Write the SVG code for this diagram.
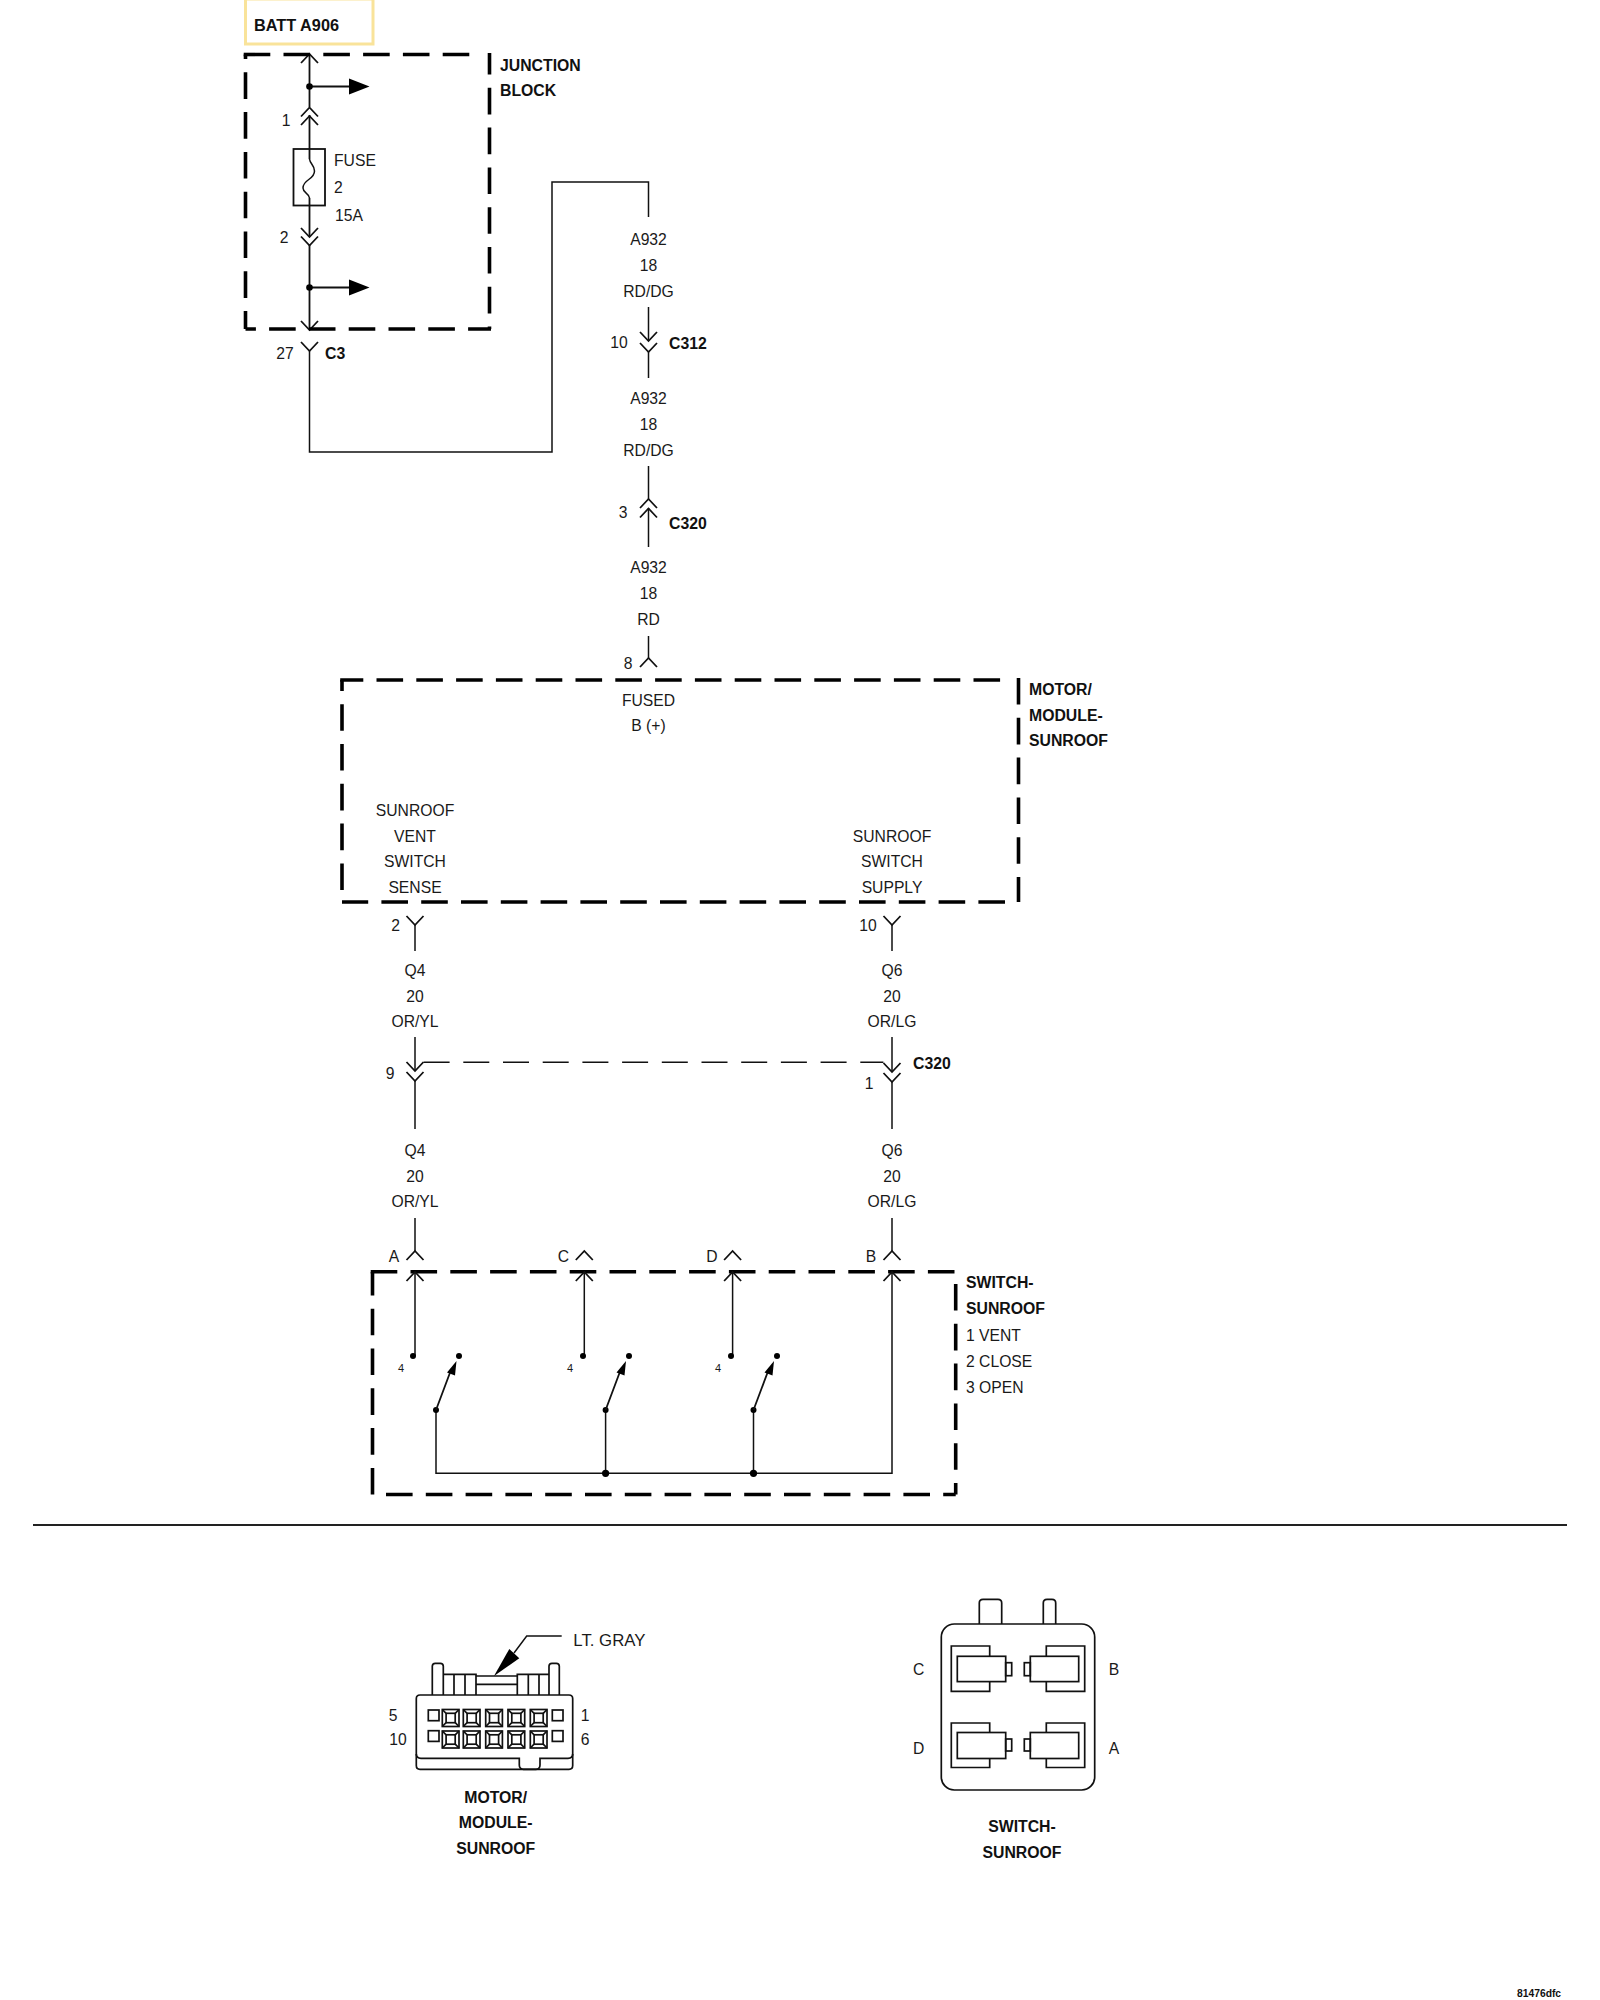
<svg xmlns="http://www.w3.org/2000/svg" width="1600" height="2000" viewBox="0 0 1600 2000">
<style>
text{font-family:"Liberation Sans",Arial,sans-serif;font-size:15.7px;fill:#1a1a1a}
.b{font-weight:bold;fill:#111;font-size:15.8px}
.m{text-anchor:middle}
.s{font-size:11px}
.w{fill:none;stroke:#111;stroke-width:1.5}
.t{fill:none;stroke:#111;stroke-width:1.8}
.d{fill:none;stroke:#000;stroke-width:3.6;stroke-dasharray:26.6 13.2}
.f{fill:#000;stroke:none}
.k{fill:none;stroke:#111;stroke-width:1.7}
</style>
<defs>
<path id="dn" d="M-8.5,-9L0,0L8.5,-9" fill="none" stroke="#111" stroke-width="1.8"/>
<path id="up" d="M-8.5,9L0,0L8.5,9" fill="none" stroke="#111" stroke-width="1.8"/>
<g id="bigpin"><rect x="0" y="0" width="16.7" height="17" class="k"/><rect x="3.8" y="3.8" width="9.1" height="9.4" class="k" stroke-width="1.2"/><path d="M0,0L3.8,3.8M16.7,0L12.9,3.8M0,17L3.8,13.2M16.7,17L12.9,13.2" class="k"/></g>
<g id="termL"><path d="M89.7,76V66H51.3V111.3H89.7V101.7" class="k"/><rect x="57.3" y="76.3" width="48.4" height="25.3" class="k"/><rect x="105.7" y="82.7" width="6" height="13" class="k"/></g>
<g id="termR"><path d="M146.3,76V66H184.7V111.3H146.3V101.7" class="k"/><rect x="130.3" y="76.3" width="48.4" height="25.3" class="k"/><rect x="124.3" y="82.7" width="6" height="13" class="k"/></g>
</defs>

<g id="batt-a906">
<rect x="245.5" y="-1" width="127.5" height="45" fill="#fff" stroke="#f9e39a" stroke-width="3"/>
<text x="254" y="31" class="b" style="font-size:16.3px">BATT A906</text>
</g>

<g id="connectors">
<path class="t" d="M309.5,54V107M309.5,115V159M309.5,198V237M309.5,245V330"/>
<path class="t" d="M309.5,86.5H350"/>
<path class="t" d="M309.5,287.5H350"/>
<path class="w" d="M309.5,351V452H552V182H648.5V217"/>
<path class="w" d="M648.5,307V341M648.5,351V378"/>
<path class="w" d="M648.5,466V499M648.5,508V547"/>
<path class="w" d="M648.5,636V658"/>
<path class="w" d="M415,925V951M892,925V951"/>
<path class="w" d="M415,1037V1071M415,1081V1129M892,1037V1071M892,1082V1129"/>
<path class="w" d="M415,1218V1251M892,1218V1251"/>
<path class="w" d="M423.6,1062.3H883.4" stroke-dasharray="26 13.7"/>
<use href="#up" x="309.5" y="54"/>
<use href="#up" x="309.5" y="107.5"/>
<use href="#up" x="309.5" y="116"/>
<use href="#dn" x="309.5" y="237"/>
<use href="#dn" x="309.5" y="245.5"/>
<use href="#dn" x="309.5" y="330"/>
<use href="#dn" x="309.5" y="351"/>
<use href="#dn" x="648.5" y="341"/>
<use href="#dn" x="648.5" y="352"/>
<use href="#up" x="648.5" y="499"/>
<use href="#up" x="648.5" y="508.5"/>
<use href="#up" x="648.5" y="658"/>
<use href="#dn" x="415" y="925"/>
<use href="#dn" x="892" y="925"/>
<use href="#dn" x="415" y="1071"/>
<use href="#dn" x="415" y="1081"/>
<use href="#dn" x="892" y="1072"/>
<use href="#dn" x="892" y="1082"/>
<use href="#up" x="415" y="1251"/>
<use href="#up" x="584.3" y="1251"/>
<use href="#up" x="732.6" y="1251"/>
<use href="#up" x="892" y="1251"/>
<circle class="f" cx="309.5" cy="86.5" r="3.3"/>
<circle class="f" cx="309.5" cy="287.5" r="3.3"/>
<polygon class="f" points="349,78.5 369.5,86.5 349,94.5"/>
<polygon class="f" points="349,279.5 369.5,287.5 349,295.5"/>
</g>

<g id="junction-block">
<path class="d" d="M243.7,54.5H471"/>
<path class="d" d="M489.5,53V329" stroke-dashoffset="5"/>
<path class="d" d="M491,329H245.5" stroke-dashoffset="3.7"/>
<path class="d" d="M245.5,329V54.5" stroke-dashoffset="8.7"/>
<text x="500" y="71" class="b">JUNCTION</text>
<text x="500" y="96" class="b">BLOCK</text>
<g id="fuse">
<rect x="293.5" y="149" width="31.5" height="56.5" class="t"/>
<path d="M309.5,159C310,164 314.5,165 314.5,171C314.5,180 303,179 303,188C303,193 309,193 309.5,198" fill="none" stroke="#111" stroke-width="1.5"/>
<text x="334" y="166">FUSE</text>
<text x="334" y="193">2</text>
<text x="335" y="221">15A</text>
</g>
<text x="286" y="126" class="m">1</text>
<text x="284" y="243" class="m">2</text>
</g>

<g id="wire-labels">
<text x="285" y="359" class="m">27</text>
<text x="325" y="359" class="b">C3</text>
<text x="648.5" y="244.5" class="m">A932</text>
<text x="648.5" y="271" class="m">18</text>
<text x="648.5" y="297" class="m">RD/DG</text>
<text x="619" y="348" class="m">10</text>
<text x="669" y="349" class="b">C312</text>
<text x="648.5" y="404" class="m">A932</text>
<text x="648.5" y="430" class="m">18</text>
<text x="648.5" y="456" class="m">RD/DG</text>
<text x="623" y="518" class="m">3</text>
<text x="669" y="529" class="b">C320</text>
<text x="648.5" y="573" class="m">A932</text>
<text x="648.5" y="599" class="m">18</text>
<text x="648.5" y="625" class="m">RD</text>
<text x="628" y="669" class="m">8</text>
<text x="395.5" y="931" class="m">2</text>
<text x="868" y="931" class="m">10</text>
<text x="415" y="976" class="m">Q4</text>
<text x="415" y="1001.5" class="m">20</text>
<text x="415" y="1027" class="m">OR/YL</text>
<text x="892" y="976" class="m">Q6</text>
<text x="892" y="1001.5" class="m">20</text>
<text x="892" y="1027" class="m">OR/LG</text>
<text x="390" y="1079" class="m">9</text>
<text x="869" y="1089" class="m">1</text>
<text x="913" y="1069" class="b">C320</text>
<text x="415" y="1156" class="m">Q4</text>
<text x="415" y="1181.5" class="m">20</text>
<text x="415" y="1207" class="m">OR/YL</text>
<text x="892" y="1156" class="m">Q6</text>
<text x="892" y="1181.5" class="m">20</text>
<text x="892" y="1207" class="m">OR/LG</text>
</g>

<g id="motor-module-sunroof">
<path class="d" d="M340.2,680H1003" stroke-dashoffset="3.5"/>
<path class="d" d="M1018.5,678V902"/>
<path class="d" d="M1005,902H342"/>
<path class="d" d="M342,890V680"/>
<text x="1029" y="695" class="b">MOTOR/</text>
<text x="1029" y="721" class="b">MODULE-</text>
<text x="1029" y="746" class="b">SUNROOF</text>
<text x="648.5" y="706" class="m">FUSED</text>
<text x="648.5" y="731" class="m">B (+)</text>
<text x="415" y="816" class="m">SUNROOF</text>
<text x="415" y="841.5" class="m">VENT</text>
<text x="415" y="867" class="m">SWITCH</text>
<text x="415" y="893" class="m">SENSE</text>
<text x="892" y="841.5" class="m">SUNROOF</text>
<text x="892" y="867" class="m">SWITCH</text>
<text x="892" y="893" class="m">SUPPLY</text>
</g>

<g id="switch-sunroof">
<path class="d" d="M370.7,1271.7H955.7"/>
<path class="d" d="M955.7,1284V1494.5"/>
<path class="d" d="M386,1494.5H955.7"/>
<path class="d" d="M372.5,1494.5V1272"/>
<text x="394" y="1262" class="m">A</text>
<text x="563.5" y="1262" class="m">C</text>
<text x="712" y="1262" class="m">D</text>
<text x="871" y="1262" class="m">B</text>
<path class="w" d="M415,1272V1356M584.3,1272V1356M732.6,1272V1356M892,1272V1473.3H436V1410M605.6,1473.3V1410M753.5,1473.3V1410"/>
<use href="#up" x="415" y="1272"/>
<use href="#up" x="584.3" y="1272"/>
<use href="#up" x="732.6" y="1272"/>
<use href="#up" x="892" y="1272"/>
<circle class="f" cx="413" cy="1356" r="3"/>
<circle class="f" cx="583" cy="1356" r="3"/>
<circle class="f" cx="731" cy="1356" r="3"/>
<circle class="f" cx="459" cy="1356" r="3"/>
<circle class="f" cx="629" cy="1356" r="3"/>
<circle class="f" cx="777" cy="1356" r="3"/>
<circle class="f" cx="436" cy="1410" r="3"/>
<circle class="f" cx="605.6" cy="1410" r="3"/>
<circle class="f" cx="753.5" cy="1410" r="3"/>
<circle class="f" cx="605.6" cy="1473.3" r="3.6"/>
<circle class="f" cx="753.5" cy="1473.3" r="3.6"/>
<path class="t" d="M436,1410L451,1370M605.6,1410L620.6,1370M753.5,1410L768.5,1370"/>
<polygon class="f" points="456.5,1361 455,1375.5 447,1372.5"/>
<polygon class="f" points="626,1361 624.5,1375.5 616.5,1372.5"/>
<polygon class="f" points="774,1361 772.5,1375.5 764.5,1372.5"/>
<text x="401" y="1372" class="m s">4</text>
<text x="570" y="1372" class="m s">4</text>
<text x="718" y="1372" class="m s">4</text>
<text x="966" y="1288" class="b">SWITCH-</text>
<text x="966" y="1314" class="b">SUNROOF</text>
<text x="966" y="1341">1 VENT</text>
<text x="966" y="1367">2 CLOSE</text>
<text x="966" y="1393">3 OPEN</text>
</g>

<path id="separator" d="M33,1525H1567" stroke="#222" stroke-width="2" fill="none"/>

<g id="connector-motor-module">
<path class="k" d="M432.3,1695V1666.3Q432.3,1663.3 435.3,1663.3H440.3Q443.3,1663.3 443.3,1666.3V1695"/>
<path class="k" d="M549,1695V1666.3Q549,1663.3 552,1663.3H556.3Q559.3,1663.3 559.3,1666.3V1695"/>
<path class="k" d="M443.3,1674.3H476V1695M454,1674.3V1695M465,1674.3V1695M476,1676H517.3M476,1684.3H517.3M517.3,1695V1674.3H549M528.3,1674.3V1695M539,1674.3V1695"/>
<path class="k" d="M420,1695H569Q572.7,1695 572.7,1698.7V1765.5Q572.7,1769.3 569,1769.3H420Q416.3,1769.3 416.3,1765.5V1698.7Q416.3,1695 420,1695Z"/>
<path class="k" d="M416.3,1754Q416.3,1758.3 421,1758.3H519.3V1765Q519.3,1769.3 523.5,1769.3H536Q540,1769.3 540,1765V1758.3H568Q572.7,1758.3 572.7,1754"/>
<rect x="428.3" y="1710" width="10.7" height="10.7" class="k"/>
<rect x="428.3" y="1730.7" width="10.7" height="10.7" class="k"/>
<rect x="552.3" y="1710" width="10.7" height="10.7" class="k"/>
<rect x="552.3" y="1730.7" width="10.7" height="10.7" class="k"/>
<use href="#bigpin" x="442.3" y="1709.5"/>
<use href="#bigpin" x="463.3" y="1709.5"/>
<use href="#bigpin" x="485.7" y="1709.5"/>
<use href="#bigpin" x="508" y="1709.5"/>
<use href="#bigpin" x="530.3" y="1709.5"/>
<use href="#bigpin" x="442.3" y="1731"/>
<use href="#bigpin" x="463.3" y="1731"/>
<use href="#bigpin" x="485.7" y="1731"/>
<use href="#bigpin" x="508" y="1731"/>
<use href="#bigpin" x="530.3" y="1731"/>
<polygon class="f" points="494,1676 509.3,1649 519.3,1658.3"/>
<path class="w" d="M514,1653L526.7,1636H561.7"/>
<text x="573.3" y="1646" style="font-size:16.8px">LT. GRAY</text>
<text x="393" y="1721" class="m">5</text>
<text x="398" y="1745" class="m">10</text>
<text x="585" y="1721" class="m">1</text>
<text x="585" y="1745" class="m">6</text>
<text x="495.7" y="1803" class="m b">MOTOR/</text>
<text x="495.7" y="1828" class="m b">MODULE-</text>
<text x="495.7" y="1854" class="m b">SUNROOF</text>
</g>

<g id="connector-switch">
<path class="k" d="M979.3,1624V1603Q979.3,1599.3 983,1599.3H998Q1001.7,1599.3 1001.7,1603V1624"/>
<path class="k" d="M1043.3,1624V1603Q1043.3,1599.3 1047,1599.3H1052Q1055.7,1599.3 1055.7,1603V1624"/>
<rect x="941.3" y="1624" width="153.4" height="166" rx="13" class="k" fill="none"/>
<use href="#termL" x="900" y="1580"/>
<use href="#termR" x="900" y="1580"/>
<g transform="translate(900,1657)"><path d="M89.7,76V66H51.3V110.5H89.7V101.7" class="k"/><rect x="57.3" y="75.5" width="48.4" height="26" class="k"/><rect x="105.7" y="82" width="6" height="12" class="k"/></g>
<g transform="translate(900,1657)"><path d="M146.3,76V66H184.7V110.5H146.3V101.7" class="k"/><rect x="130.3" y="75.5" width="48.4" height="26" class="k"/><rect x="124.3" y="82" width="6" height="12" class="k"/></g>
<text x="918.7" y="1675" class="m">C</text>
<text x="1114" y="1675" class="m">B</text>
<text x="918.7" y="1754" class="m">D</text>
<text x="1114" y="1754" class="m">A</text>
<text x="1022" y="1832" class="m b">SWITCH-</text>
<text x="1022" y="1858" class="m b">SUNROOF</text>
</g>

<text id="figure-id" x="1517" y="1997" class="b" style="font-size:10.3px">81476dfc</text>
</svg>
